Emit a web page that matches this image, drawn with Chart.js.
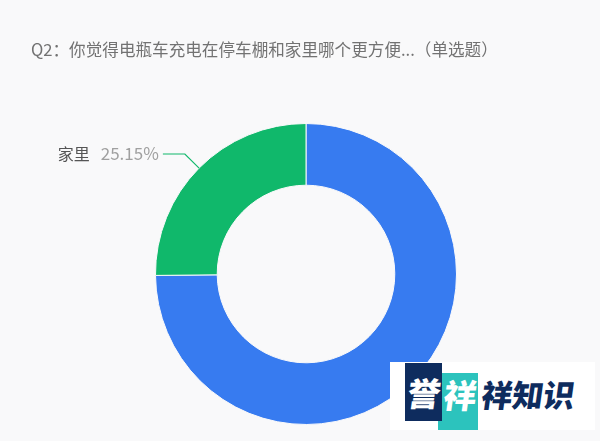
<!DOCTYPE html>
<html>
<head>
<meta charset="utf-8">
<script src="https://cdn.jsdelivr.net/npm/chart.js@4"></script>
<style>
html,body{margin:0;padding:0;background:#f9f9fa;}
#wrap{position:relative;width:600px;height:441px;overflow:hidden;}
canvas{position:absolute;left:0;top:0;}
.wm{position:absolute;}
.wm span{font-family:"Noto Sans CJK SC",sans-serif;font-weight:900;display:inline-block;transform:skewX(-8deg);line-height:1;}
</style>
</head>
<body>
<div id="wrap">
<canvas id="c" width="600" height="441"></canvas>
<div class="wm" style="left:390px;top:362px;width:205px;height:68px;background:#ffffff;"></div>
<div class="wm" style="left:438px;top:373px;width:40px;height:57px;background:#2cc3bd;"></div>
<div class="wm" style="left:405px;top:363px;width:37px;height:58px;background:#0e2c5e;"></div>
<div class="wm" style="left:406px;top:376px;width:36px;text-align:center;"><span style="color:#fff;font-size:33px;">誉</span></div>
<div class="wm" style="left:442px;top:378px;width:36px;text-align:center;"><span style="color:#fff;font-size:33px;">祥</span></div>
<div class="wm" style="left:482px;top:378px;"><span style="color:#0e2c5e;font-size:31px;letter-spacing:0px;">祥知识</span></div>
</div>
<script>
const titleText = "Q2：你觉得电瓶车充电在停车棚和家里哪个更方便...（单选题）";
const categories = ["停车棚", "家里"];
const values = [74.85, 25.15];
const colors = ["#377bf0", "#10b86b"];

const labelPlugin = {
  id: 'labels',
  afterDraw(chart) {
    const ctx = chart.ctx;
    ctx.save();
    // title
    ctx.font = '16.6px "Noto Sans CJK SC", sans-serif';
    ctx.fillStyle = '#727272';
    ctx.textBaseline = 'middle';
    ctx.textAlign = 'left';
    ctx.fillText(titleText, 31, 50);
    const meta = chart.getDatasetMeta(0);
    meta.data.forEach((arc, i) => {
      const mid = (arc.startAngle + arc.endAngle) / 2;
      const R = arc.outerRadius;
      const x0 = arc.x + Math.cos(mid) * R;
      const y0 = arc.y + Math.sin(mid) * R;
      const x1 = arc.x + Math.cos(mid) * (R + 20);
      const y1 = arc.y + Math.sin(mid) * (R + 20);
      const right = Math.cos(mid) >= 0;
      const x2 = x1 + (right ? 22 : -22);
      ctx.strokeStyle = colors[i];
      ctx.lineWidth = 1.2;
      ctx.beginPath();
      ctx.moveTo(x0, y0);
      ctx.lineTo(x1, y1);
      ctx.lineTo(x2, y1);
      ctx.stroke();
      const pct = values[i].toFixed(2) + '%';
      const name = categories[i];
      const gap = 11;
      ctx.font = '16px "Noto Sans CJK SC", sans-serif';
      const nw = ctx.measureText(name).width;
      ctx.font = '17px "Noto Sans CJK SC", sans-serif';
      const pw = ctx.measureText(pct).width;
      ctx.textBaseline = 'middle';
      if (right) {
        ctx.textAlign = 'left';
        ctx.font = '16px "Noto Sans CJK SC", sans-serif';
        ctx.fillStyle = '#555';
        ctx.fillText(name, x2 + 4, y1);
        ctx.font = '17px "Noto Sans CJK SC", sans-serif';
        ctx.fillStyle = '#a0a0a0';
        ctx.fillText(pct, x2 + 4 + nw + gap, y1);
      } else {
        ctx.textAlign = 'right';
        ctx.font = '17px "Noto Sans CJK SC", sans-serif';
        ctx.fillStyle = '#a0a0a0';
        ctx.fillText(pct, x2 - 4, y1);
        ctx.font = '16px "Noto Sans CJK SC", sans-serif';
        ctx.fillStyle = '#555';
        ctx.fillText(name, x2 - 4 - pw - gap, y1);
      }
    });
    ctx.restore();
  }
};

new Chart(document.getElementById('c'), {
  type: 'doughnut',
  data: {
    labels: categories,
    datasets: [{
      data: values,
      backgroundColor: colors,
      borderColor: '#f9f9fa',
      borderWidth: 1
    }]
  },
  options: {
    responsive: false,
    animation: false,
    cutout: '59%',
    layout: { padding: { left: 155, right: 143, top: 123, bottom: 16 } },
    plugins: {
      legend: { display: false },
      title: { display: false },
      tooltip: { enabled: false }
    }
  },
  plugins: [labelPlugin]
});
</script>
</body>
</html>
